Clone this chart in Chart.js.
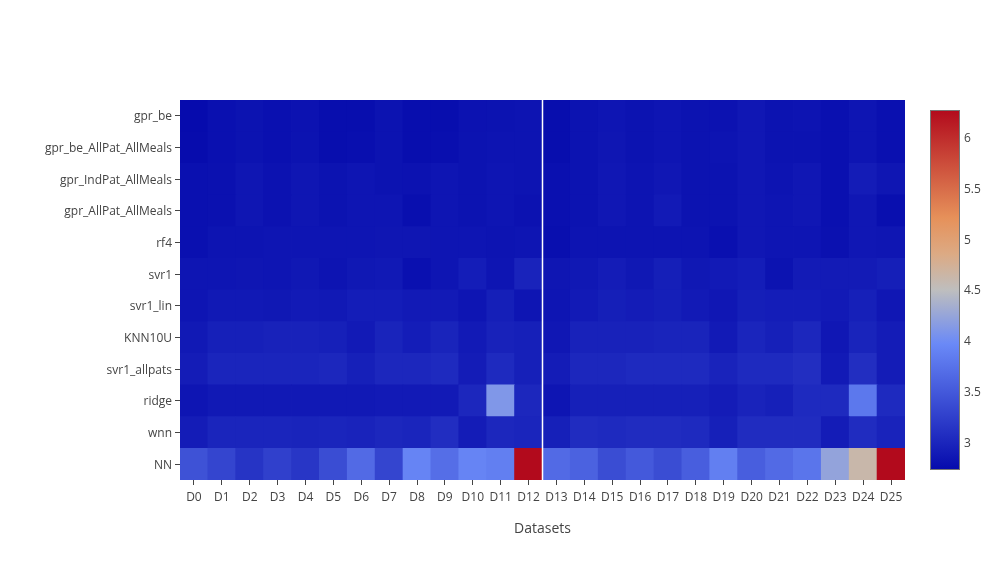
<!DOCTYPE html>
<html>
<head>
<meta charset="utf-8">
<script src="https://cdn.jsdelivr.net/npm/chart.js@4.4.0/dist/chart.umd.min.js"></script>
<style>
  html, body { margin: 0; padding: 0; background: #fff; }
  #wrap { width: 999px; height: 561px; }
</style>
</head>
<body>
<div id="wrap"><canvas id="canvas" width="999" height="561"></canvas></div>
<script>
// columns (x) and rows (y, top to bottom)
const datasetLabels = ['D0','D1','D2','D3','D4','D5','D6','D7','D8','D9','D10','D11','D12',
                       'D13','D14','D15','D16','D17','D18','D19','D20','D21','D22','D23','D24','D25'];
const models = ['gpr_be','gpr_be_AllPat_AllMeals','gpr_IndPat_AllMeals','gpr_AllPat_AllMeals','rf4',
                'svr1','svr1_lin','KNN10U','svr1_allpats','ridge','wnn','NN'];

// values per model, D0..D25
const gpr_be = [2.74,2.79,2.82,2.79,2.81,2.77,2.77,2.82,2.77,2.77,2.81,2.82,2.83, 2.77,2.82,2.84,2.82,2.84,2.82,2.81,2.86,2.82,2.83,2.79,2.84,2.79];
const gpr_be_AllPat_AllMeals = [2.75,2.79,2.82,2.79,2.82,2.77,2.78,2.82,2.77,2.78,2.82,2.83,2.83, 2.77,2.82,2.85,2.82,2.84,2.82,2.83,2.86,2.82,2.82,2.79,2.84,2.79];
const gpr_IndPat_AllMeals = [2.79,2.80,2.85,2.81,2.85,2.82,2.84,2.82,2.81,2.84,2.82,2.84,2.83, 2.79,2.82,2.86,2.83,2.86,2.82,2.82,2.86,2.83,2.86,2.79,2.91,2.85];
const gpr_AllPat_AllMeals = [2.79,2.80,2.85,2.81,2.85,2.82,2.84,2.84,2.78,2.84,2.82,2.84,2.81, 2.79,2.82,2.86,2.83,2.89,2.82,2.82,2.86,2.84,2.86,2.79,2.86,2.78];
const rf4 = [2.79,2.83,2.83,2.84,2.84,2.84,2.84,2.85,2.85,2.84,2.84,2.83,2.84, 2.78,2.83,2.83,2.83,2.83,2.83,2.79,2.86,2.84,2.84,2.80,2.86,2.85];
const svr1 = [2.84,2.84,2.85,2.84,2.87,2.83,2.87,2.88,2.79,2.84,2.92,2.84,2.97, 2.85,2.87,2.91,2.87,2.93,2.87,2.89,2.92,2.82,2.90,2.90,2.90,2.93];
const svr1_lin = [2.84,2.88,2.88,2.87,2.89,2.88,2.92,2.92,2.89,2.89,2.84,2.93,2.84, 2.84,2.89,2.93,2.91,2.93,2.89,2.86,2.93,2.92,2.92,2.89,2.94,2.86];
const KNN10U = [2.88,2.94,2.94,2.96,2.96,2.94,2.89,2.98,2.92,2.98,2.89,2.96,2.94, 2.86,2.96,2.96,2.96,2.98,2.98,2.89,2.99,2.94,3.01,2.86,2.98,2.91];
const svr1_allpats = [2.91,2.99,2.99,2.99,2.99,3.01,2.94,3.01,3.01,3.04,2.91,3.04,2.94, 2.91,3.01,3.01,3.04,3.04,3.04,2.97,3.04,3.04,3.08,2.89,3.08,2.91];
const ridge = [2.84,2.88,2.88,2.88,2.88,2.88,2.88,2.89,2.89,2.89,3.01,4.11,3.01, 2.84,2.94,2.94,2.94,2.94,2.94,2.91,2.97,2.94,3.04,3.04,3.80,3.04];
const wnn = [2.91,2.99,2.99,2.99,2.98,2.99,2.97,3.01,2.99,3.07,2.91,3.01,2.99, 2.94,3.06,3.04,3.06,3.06,3.04,2.94,3.06,3.06,3.06,2.91,3.06,2.97];
const NN = [3.43,3.31,3.14,3.26,3.16,3.38,3.67,3.31,3.92,3.71,3.92,3.87,6.27, 3.67,3.59,3.38,3.50,3.38,3.55,3.87,3.55,3.67,3.77,4.23,4.62,6.27];

const rows = [gpr_be, gpr_be_AllPat_AllMeals, gpr_IndPat_AllMeals, gpr_AllPat_AllMeals, rf4,
              svr1, svr1_lin, KNN10U, svr1_allpats, ridge, wnn, NN];

// colour range + colorbar ticks
const zMin = 2.73;
const zMax = 6.27;
const colorbarTicks = [3, 3.5, 4, 4.5, 5, 5.5, 6];

// plotly RdBu (reversed) stops
const colorStops = [
  [0,    [5, 10, 172]],
  [0.35, [106, 137, 247]],
  [0.5,  [190, 190, 190]],
  [0.6,  [220, 170, 132]],
  [0.7,  [230, 145, 90]],
  [1,    [178, 10, 28]]
];

function colorFor(v) {
  let t = (v - zMin) / (zMax - zMin);
  t = Math.max(0, Math.min(1, t));
  for (let i = 1; i < colorStops.length; i++) {
    const [t1, c1] = colorStops[i];
    const [t0, c0] = colorStops[i - 1];
    if (t <= t1) {
      const f = (t - t0) / (t1 - t0);
      const c = c0.map((a, k) => Math.round(a + (c1[k] - a) * f));
      return `rgb(${c[0]},${c[1]},${c[2]})`;
    }
  }
  return 'rgb(178,10,28)';
}

// bottom-up order for stacking (NN first)
const modelsBottomUp = models.slice().reverse();
const rowsBottomUp = rows.slice().reverse();

const datasets = rowsBottomUp.map((vals, i) => ({
  label: modelsBottomUp[i],
  data: datasetLabels.map(() => 1),
  backgroundColor: vals.map(colorFor),
  borderWidth: 0,
  barPercentage: 1,
  categoryPercentage: 1,
  inflateAmount: 0.4,
  yAxisID: 'y',
  stack: 'heat'
}));

// colorbar is inset 10px from chart area top/bottom
const cbInset = 10;
const cbPx = 380 - 2 * cbInset;
const cbUnit = (zMax - zMin) / cbPx;

const heatExtras = {
  id: 'heatExtras',
  afterDatasetsDraw(chart) {
    const { ctx, chartArea, scales } = chart;
    // white separator between D12 and D13
    const xs = scales.x.getPixelForValue(12.5);
    ctx.save();
    ctx.strokeStyle = '#fff';
    ctx.lineWidth = 1.5;
    ctx.beginPath();
    ctx.moveTo(xs, chartArea.top);
    ctx.lineTo(xs, chartArea.bottom);
    ctx.stroke();
    ctx.restore();
  },
  afterDraw(chart) {
    const { ctx } = chart;
    const cb = chart.scales.cb;
    const yTop = cb.getPixelForValue(zMax);
    const yBot = cb.getPixelForValue(zMin);
    const x0 = cb.left + 25;
    const w = 30;
    const grad = ctx.createLinearGradient(0, yBot, 0, yTop);
    colorStops.forEach(([t, c]) => grad.addColorStop(t, `rgb(${c[0]},${c[1]},${c[2]})`));
    ctx.save();
    ctx.fillStyle = grad;
    ctx.fillRect(x0, yTop, w, yBot - yTop);
    ctx.strokeStyle = '#777';
    ctx.lineWidth = 1;
    ctx.strokeRect(x0 + 0.5, Math.round(yTop) + 0.5, w - 1, Math.round(yBot - yTop) - 1);
    ctx.restore();
  }
};

Chart.defaults.font.family = '"Open Sans", sans-serif';
Chart.defaults.font.size = 12;
Chart.defaults.color = '#444';

new Chart(document.getElementById('canvas'), {
  type: 'bar',
  data: { labels: datasetLabels, datasets: datasets },
  options: {
    responsive: false,
    animation: false,
    devicePixelRatio: 1,
    layout: { padding: { top: 100, left: 0, right: 0, bottom: 0 } },
    plugins: { legend: { display: false }, tooltip: { enabled: false } },
    scales: {
      x: {
        type: 'category',
        stacked: true,
        offset: true,
        border: { display: false },
        grid: { display: true, drawOnChartArea: false, offset: false, tickLength: 5, tickColor: '#444', tickWidth: 1 },
        ticks: { color: '#444', padding: 5, maxRotation: 0, autoSkip: false, font: { size: 12 } },
        title: { display: true, text: 'Datasets', color: '#444', font: { size: 14 }, padding: { top: 0, bottom: 24 } },
        afterFit: s => { s.height = 81; }
      },
      y: {
        type: 'linear',
        stacked: true,
        position: 'left',
        min: 0,
        max: models.length,
        border: { display: false },
        grid: { display: true, drawOnChartArea: false, tickLength: 5, tickColor: '#444', tickWidth: 1 },
        afterBuildTicks: s => { s.ticks = modelsBottomUp.map((m, i) => ({ value: i + 0.5 })); },
        ticks: { color: '#444', padding: 3, labelOffset: 1, font: { size: 12 }, callback: (v, i) => modelsBottomUp[i] },
        afterFit: s => { s.width = 180; }
      },
      cb: {
        type: 'linear',
        position: 'right',
        min: zMin - cbInset * cbUnit,
        max: zMax + cbInset * cbUnit,
        border: { display: false },
        grid: { display: false, drawTicks: false },
        afterBuildTicks: s => { s.ticks = colorbarTicks.map(v => ({ value: v })); },
        ticks: { color: '#444', padding: 59, labelOffset: 1, font: { size: 12 }, callback: v => String(v) },
        afterFit: s => { s.width = 94; }
      }
    }
  },
  plugins: [heatExtras]
});
</script>
</body>
</html>
